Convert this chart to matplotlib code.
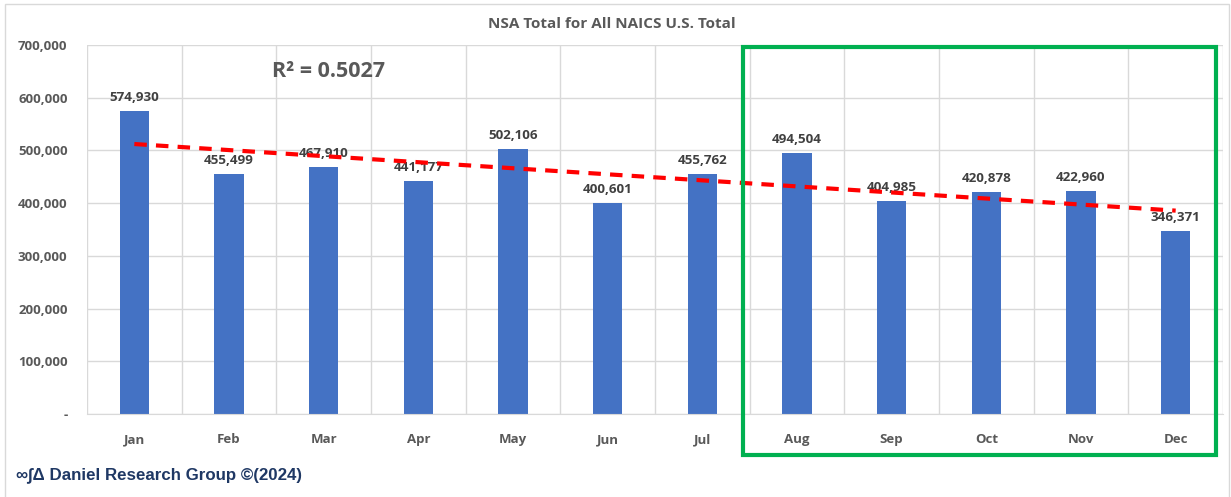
import matplotlib.pyplot as plt
import numpy as np
from matplotlib.patches import Rectangle
from matplotlib.ticker import FuncFormatter

#====================DATA====================

months = ["Jan", "Feb", "Mar", "Apr", "May", "Jun", "Jul", "Aug", "Sep", "Oct", "Nov", "Dec"]
totals = [574930, 455499, 467910, 441177, 502106, 400601, 455762, 494504, 404985, 420878, 422960, 346371]
y_ticks = [0, 100000, 200000, 300000, 400000, 500000, 600000, 700000]
r2_shown = 0.5027  # as printed on the chart

x = np.arange(len(months))
y = np.array(totals)

# linear trend
slope, intercept = np.polyfit(x, y, 1)
trend = slope * x + intercept

#====================PLOT====================

label_font = "Open Sans"
gray = "#595959"

fig = plt.figure(figsize=(12.31, 4.97), dpi=100)
ax = fig.add_axes([87 / 1231, 83 / 497, 1136 / 1231, 369 / 497])

ax.bar(x, y, width=0.31, color="#4472C4", zorder=2)
ax.plot(x, trend, color="#FF0000", linestyle=(0, (3, 2.2)), linewidth=3, zorder=4)

for xi, yi in zip(x, y):
    ax.annotate(f"{yi:,}", (xi, yi), xytext=(0, 5), textcoords="offset points",
                ha="center", va="bottom", fontsize=9.6, fontweight="bold",
                color="#404040", family=label_font, zorder=3)

ax.text(1.45, 649000, f"R² = {r2_shown:.4f}", fontsize=15.5, fontweight="bold",
        color=gray, family=label_font, va="center", ha="left")

ax.set_xlim(-0.5, len(months) - 0.5)
ax.set_ylim(0, 700000)
ax.set_yticks(y_ticks)
ax.yaxis.set_major_formatter(FuncFormatter(lambda v, p: "-" if v == 0 else f"{int(v):,}"))
ax.set_xticks(x)
ax.set_xticklabels(months)
ax.set_xticks(np.arange(-0.5, len(months)), minor=True)

ax.grid(axis="y", color="#D9D9D9", linewidth=1, zorder=0)
ax.grid(axis="x", which="minor", color="#D9D9D9", linewidth=1, zorder=0)
ax.set_axisbelow(True)
for s in ["top", "right", "left"]:
    ax.spines[s].set_visible(False)
ax.spines["bottom"].set_color("#D9D9D9")

ax.tick_params(axis="both", which="both", length=0)
ax.tick_params(axis="x", pad=14)
ax.tick_params(axis="y", pad=14)
for lab in ax.get_xticklabels() + ax.get_yticklabels():
    lab.set_family(label_font)
    lab.set_fontweight("bold")
    lab.set_fontsize(9.5)
    lab.set_color(gray)

fig.text(612 / 1231, 1 - 24 / 497, "NSA Total for All NAICS U.S. Total", ha="center", va="center",
         fontsize=11, fontweight="bold", color=gray, family=label_font)

fig.text(16 / 1231, 1 - 475 / 497, "∞∫Δ Daniel Research Group ©(2024)", ha="left", va="center",
         fontsize=12.2, fontweight="bold", color="#1F3864", family="Liberation Sans")

# outer chart border
fig.patches.append(Rectangle((5 / 1231, -0.01), 1224 / 1231, 1 - 4 / 497 + 0.01,
                             transform=fig.transFigure, fill=False, edgecolor="#D9D9D9", linewidth=1))

# highlight box for Aug-Dec
fig.patches.append(Rectangle((743 / 1231, 1 - 455 / 497), 473 / 1231, 408 / 497,
                             transform=fig.transFigure, fill=False, edgecolor="#00B050", linewidth=3, zorder=10))

plt.savefig("out.png", dpi=100)
